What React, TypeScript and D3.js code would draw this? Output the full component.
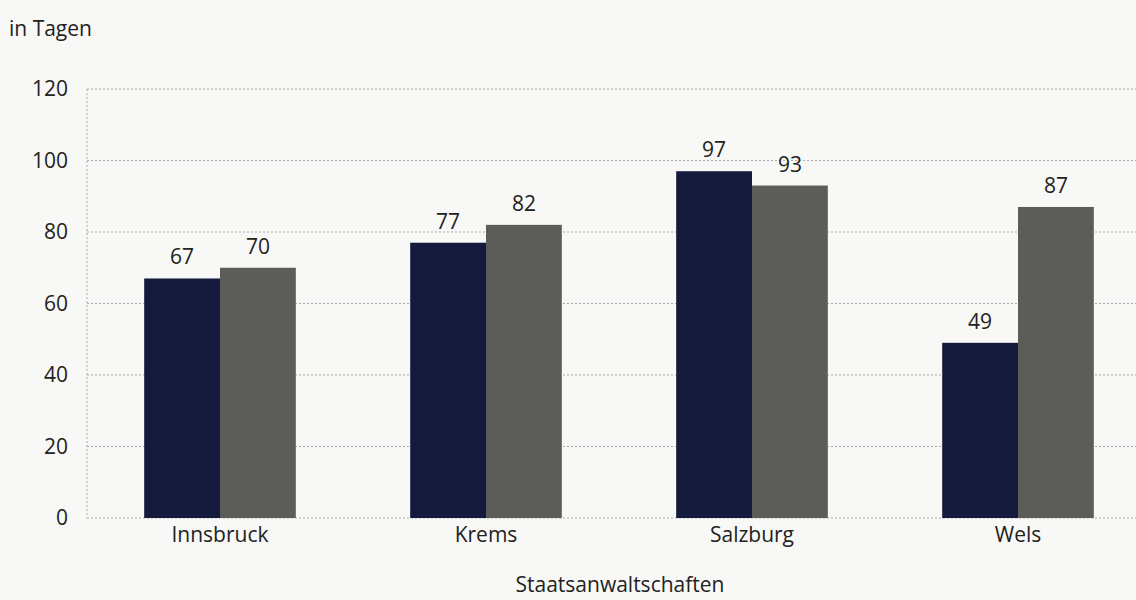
import React from "react";
import * as d3 from "d3";

const categories = ["Innsbruck", "Krems", "Salzburg", "Wels"];
const seriesA = [67, 77, 97, 49];
const seriesB = [70, 82, 93, 87];
const yTicks = [0, 20, 40, 60, 80, 100, 120];

const W = 1136;
const H = 600;
const FONT = "'Open Sans', 'Noto Sans', sans-serif";
const FS = 21;

export default function App() {
  const left = 87, top = 89, bottom = 518;
  const x0 = d3.scaleBand<string>().domain(categories).range([left, left + 4 * 266]).paddingInner(0.43).paddingOuter(0.215);
  const x1 = d3.scaleBand<string>().domain(["a", "b"]).range([0, x0.bandwidth()]).padding(0);
  const y = d3.scaleLinear().domain([0, 120]).range([bottom, top]);
  const series = [
    { key: "a", values: seriesA, color: "#141a3b" },
    { key: "b", values: seriesB, color: "#5c5c58" },
  ];
  return (
    <div style={{ position: "fixed", left: 0, top: 0 }}>
      <svg width={W} height={H} style={{ display: "block", background: "#f8f8f6" }} fontFamily={FONT}>
        <text x={9} y={36} fontSize={FS} fill="#222">in Tagen</text>
        {yTicks.map((t) => (
          <g key={t}>
            <line x1={left} x2={W} y1={y(t)} y2={y(t)} stroke="#aaa" strokeWidth={1} strokeDasharray="2,2" />
            <text x={68} y={y(t)} dy="0.35em" textAnchor="end" fontSize={FS} fill="#222">{t}</text>
          </g>
        ))}
        <line x1={left} x2={left} y1={top} y2={bottom} stroke="#aaa" strokeDasharray="2,2" />
        {categories.map((c, i) => (
          <g key={c}>
            {series.map((s) => {
              const bx = (x0(c) as number) + (x1(s.key) as number);
              const v = s.values[i];
              return (
                <g key={s.key}>
                  <rect x={bx} y={y(v)} width={x1.bandwidth()} height={bottom - y(v)} fill={s.color} />
                  <text x={bx + x1.bandwidth() / 2} y={y(v) - 14} textAnchor="middle" fontSize={FS} fill="#222">{v}</text>
                </g>
              );
            })}
            <text x={(x0(c) as number) + x0.bandwidth() / 2} y={542} textAnchor="middle" fontSize={FS} fill="#222">{c}</text>
          </g>
        ))}
        <text x={620} y={592} textAnchor="middle" fontSize={FS} fill="#222">Staatsanwaltschaften</text>
      </svg>
    </div>
  );
}
